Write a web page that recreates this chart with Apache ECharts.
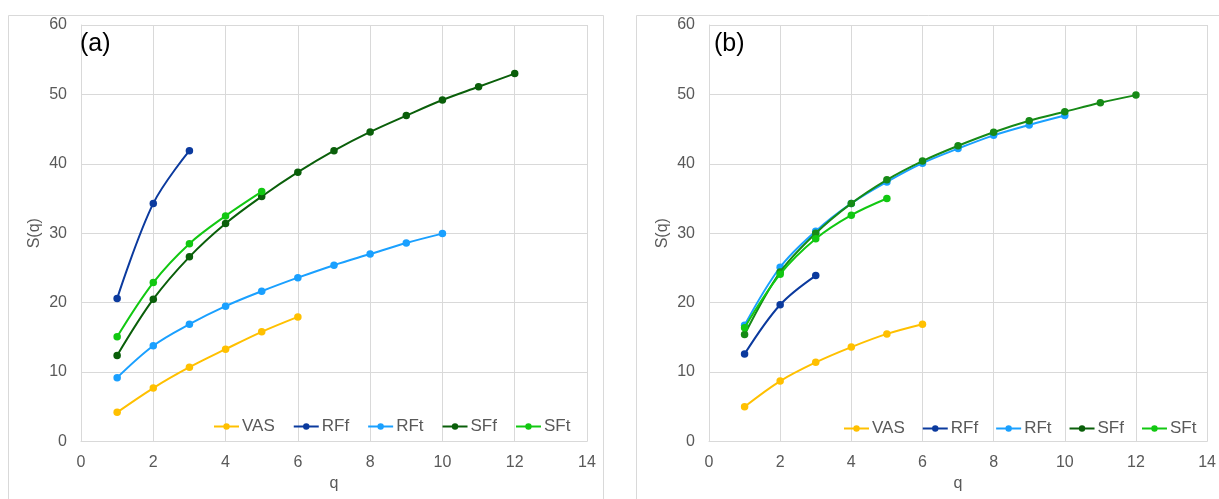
<!DOCTYPE html>
<html><head><meta charset="utf-8">
<script src="https://cdn.jsdelivr.net/npm/echarts@6/dist/echarts.min.js"></script>
<style>html,body{margin:0;padding:0;background:#fff}#c{width:1219px;height:499px}</style>
</head><body><div id="c"></div>
<script>
// Panel (a)
const A_VAS = [4.2, 7.7, 10.7, 13.3, 15.8, 17.95];
const A_RFf = [20.6, 34.3, 41.9];
const A_RFt = [9.2, 13.8, 16.9, 19.5, 21.65, 23.6, 25.4, 27.0, 28.6, 29.95];
const A_SFf = [12.4, 20.5, 26.6, 31.4, 35.3, 38.8, 41.9, 44.6, 46.95, 49.2, 51.1, 53.0];
const A_SFt = [15.1, 22.9, 28.5, 32.5, 36.0];
// Panel (b)
const B_VAS = [5.0, 8.7, 11.4, 13.6, 15.5, 16.9];
const B_RFf = [12.6, 19.7, 23.9];
const B_RFt = [16.75, 25.1, 30.3, 34.3, 37.4, 40.1, 42.2, 44.1, 45.6, 46.95];
const B_SFf = [15.4, 24.4, 30.0, 34.3, 37.7, 40.4, 42.6, 44.55, 46.2, 47.5, 48.8, 49.9];
const B_SFt = [16.4, 24.1, 29.2, 32.6, 35.0];
const seriesNames = ['VAS', 'RFf', 'RFt', 'SFf', 'SFt'];
const xTicks = [0, 2, 4, 6, 8, 10, 12, 14];
const yTicks = [0, 10, 20, 30, 40, 50, 60];
const panelLabels = ['(a)', '(b)'];

const colorsA = ['#FFC000', '#0B3A9E', '#1AA0FF', '#0A5F0A', '#12C812'];
const colorsB = ['#FFC000', '#0B3A9E', '#1AA0FF', '#168A16', '#12C812'];
const gray = '#595959';
const grid = '#d9d9d9';
const FF = 'Liberation Sans';

function pts(arr){ return arr.map((v,i)=>[i+1, v]); }
function mk(name, data, color, idx, z){
  return {name, type:'line', xAxisIndex:idx, yAxisIndex:idx, data:pts(data),
    smooth:0.35, symbol:'circle', symbolSize:7.5, showSymbol:true,
    lineStyle:{color, width:2}, itemStyle:{color}, z:z, emphasis:{disabled:true}, animation:false};
}
const dataA = [A_VAS, A_RFf, A_RFt, A_SFf, A_SFt];
const dataB = [B_VAS, B_RFf, B_RFt, B_SFf, B_SFt];
const series = [];
seriesNames.forEach((n,i)=>series.push(mk(n, dataA[i], colorsA[i], 0, 2+i)));
seriesNames.forEach((n,i)=>series.push(mk(n, dataB[i], colorsB[i], 1, 2+i)));

function xAx(idx, gap){ return {gridIndex:idx, type:'value', min:xTicks[0], max:xTicks[xTicks.length-1], interval:2,
  name:'q', nameLocation:'middle', nameGap:gap, nameTextStyle:{color:gray, fontSize:16, fontFamily:FF},
  axisLine:{show:true, lineStyle:{color:grid}}, axisTick:{show:false},
  axisLabel:{color:gray, fontSize:16, fontFamily:FF, margin:13},
  splitLine:{show:true, lineStyle:{color:grid, width:1}}}; }
function yAx(idx){ return {gridIndex:idx, type:'value', min:yTicks[0], max:yTicks[yTicks.length-1], interval:10,
  name:'S(q)', nameLocation:'middle', nameGap:38, nameTextStyle:{color:gray, fontSize:16, fontFamily:FF},
  axisLine:{show:true, lineStyle:{color:grid}}, axisTick:{show:false},
  axisLabel:{color:gray, fontSize:16, fontFamily:FF, margin:14},
  splitLine:{show:true, lineStyle:{color:grid, width:1}}}; }

const legendCommon = {orient:'horizontal', itemWidth:25, itemHeight:8,
  textStyle:{color:gray, fontSize:17, fontFamily:FF, padding:[0,0,0,-2]}, selectedMode:false, data:seriesNames};

const chart = echarts.init(document.getElementById('c'), null, {renderer:'canvas'});
chart.setOption({
  animation:false,
  backgroundColor:'#fff',
  grid:[{left:81, top:25, width:506, height:416.5},{left:709, top:25, width:506, height:416.5}],
  xAxis:[xAx(0, 30), xAx(1, 34)],
  yAxis:[yAx(0), yAx(1)],
  legend:[Object.assign({}, legendCommon, {left:208, top:413, itemGap:18}), Object.assign({}, legendCommon, {left:838, top:415, itemGap:17})],
  series,
  graphic:[
    {type:'rect', shape:{x:8.5, y:15.5, width:595, height:500}, style:{fill:'none', stroke:'#d9d9d9', lineWidth:1}, silent:true, z:-1},
    {type:'rect', shape:{x:636.5, y:15.5, width:600, height:500}, style:{fill:'none', stroke:'#d9d9d9', lineWidth:1}, silent:true, z:-1},
    {type:'text', left:80, top:32, style:{text:panelLabels[0], fill:'#000', fontSize:25, fontFamily:FF}, z:10},
    {type:'text', left:714, top:32, style:{text:panelLabels[1], fill:'#000', fontSize:25, fontFamily:FF}, z:10}
  ]
});
</script></body></html>
